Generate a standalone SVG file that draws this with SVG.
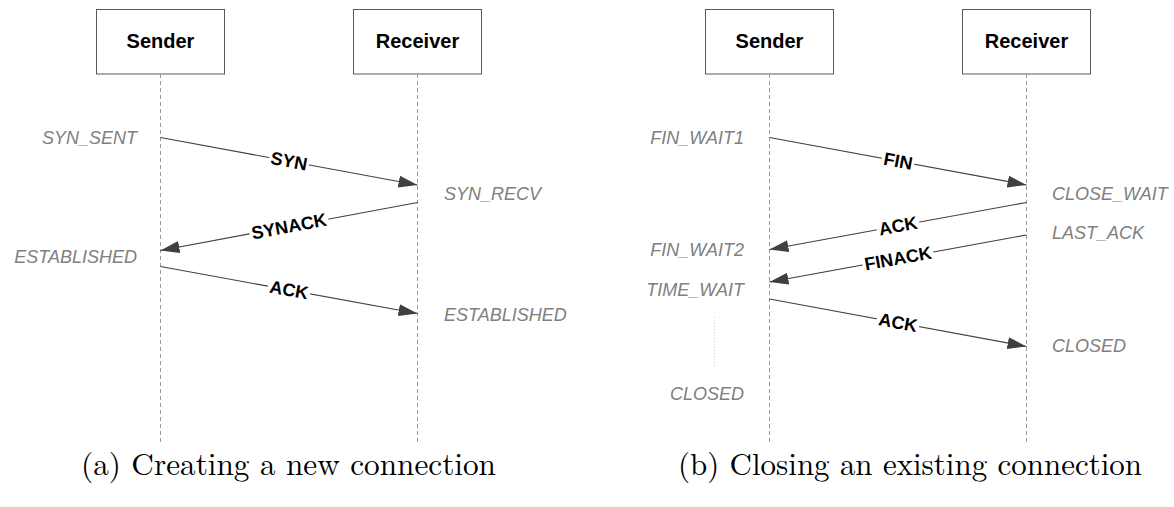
<svg xmlns="http://www.w3.org/2000/svg" width="1174" height="507" viewBox="0 0 1174 507">
  <style>
    .box { fill: #ffffff; stroke: #5a5a5a; stroke-width: 1; }
    .name { font-family: "Liberation Sans", Arial, sans-serif; font-weight: bold; font-size: 20px; fill: #000000; text-anchor: middle; }
    .life { stroke: #9a9a9a; stroke-width: 1; stroke-dasharray: 4 3; fill: none; }
    .state { font-family: "Liberation Sans", Arial, sans-serif; font-style: italic; font-size: 18px; fill: #808080; }
    .end { text-anchor: end; }
    .msg { stroke: #404040; stroke-width: 1.1; fill: none; marker-end: url(#head); }
    .lbl { font-family: "Liberation Sans", Arial, sans-serif; font-weight: bold; font-size: 18px; fill: #000000; text-anchor: middle; dominant-baseline: central; }
    .lblbg { fill: #ffffff; }
    .cap { font-family: "Latin Modern Roman", "Liberation Serif", "Times New Roman", serif; font-size: 31px; fill: #000000; }
    .wait { stroke: #c8c8c8; stroke-width: 1; stroke-dasharray: 1 2; }
  </style>
  <defs>
    <marker id="head" markerUnits="userSpaceOnUse" markerWidth="20" markerHeight="13" refX="19" refY="6" orient="auto">
      <path d="M0,0 L19,6 L0,12 Z" fill="#404040"/>
    </marker>
  </defs>

  <rect width="1174" height="507" fill="#ffffff"/>

  <!-- (a) connection setup -->
  <g id="a-sender">
    <rect class="box" x="96.5" y="9.5" width="128" height="64.5"/>
    <text class="name" x="160.5" y="48">Sender</text>
    <line class="life" x1="160.5" y1="74" x2="160.5" y2="445"/>
  </g>
  <g id="a-receiver">
    <rect class="box" x="353.5" y="9.5" width="128" height="64.5"/>
    <text class="name" x="417.5" y="48">Receiver</text>
    <line class="life" x1="417.5" y1="74" x2="417.5" y2="445"/>
  </g>
  <g id="a-states">
    <text class="state end" x="137" y="144">SYN_SENT</text>
    <text class="state" x="444" y="200">SYN_RECV</text>
    <text class="state end" x="137" y="263">ESTABLISHED</text>
    <text class="state" x="444" y="321">ESTABLISHED</text>
  </g>
  <g id="a-messages">
    <line class="msg" x1="160.5" y1="137.5" x2="417.5" y2="185"/>
    <g transform="translate(289,161.25) rotate(10.47)">
      <rect class="lblbg" x="-20" y="-8" width="40" height="16"/>
      <text class="lbl" x="0" y="0">SYN</text>
    </g>
    <line class="msg" x1="417.5" y1="202.5" x2="160.5" y2="250.5"/>
    <g transform="translate(289,226.5) rotate(-10.58)">
      <rect class="lblbg" x="-40" y="-8" width="80" height="16"/>
      <text class="lbl" x="0" y="0">SYNACK</text>
    </g>
    <line class="msg" x1="160.5" y1="266.5" x2="417.5" y2="313.5"/>
    <g transform="translate(289,290) rotate(10.36)">
      <rect class="lblbg" x="-21.5" y="-8" width="43" height="16"/>
      <text class="lbl" x="0" y="0">ACK</text>
    </g>
  </g>

  <!-- (b) connection teardown -->
  <g id="b-sender">
    <rect class="box" x="705.5" y="9.5" width="128" height="64.5"/>
    <text class="name" x="769.5" y="48">Sender</text>
    <line class="life" x1="769.5" y1="74" x2="769.5" y2="445"/>
  </g>
  <g id="b-receiver">
    <rect class="box" x="962.5" y="9.5" width="128" height="64.5"/>
    <text class="name" x="1026.5" y="48">Receiver</text>
    <line class="life" x1="1026.5" y1="74" x2="1026.5" y2="445"/>
  </g>
  <g id="b-states">
    <text class="state end" x="744" y="144">FIN_WAIT1</text>
    <text class="state" x="1052" y="200">CLOSE_WAIT</text>
    <text class="state" x="1052" y="239">LAST_ACK</text>
    <text class="state end" x="744" y="256">FIN_WAIT2</text>
    <text class="state end" x="744" y="296">TIME_WAIT</text>
    <text class="state" x="1052" y="352">CLOSED</text>
    <line class="wait" x1="714.5" y1="317" x2="714.5" y2="366"/>
    <text class="state end" x="744" y="400">CLOSED</text>
  </g>
  <g id="b-messages">
    <line class="msg" x1="769.5" y1="137.5" x2="1026.5" y2="185"/>
    <g transform="translate(898,161.25) rotate(10.47)">
      <rect class="lblbg" x="-16.5" y="-8" width="33" height="16"/>
      <text class="lbl" x="0" y="0">FIN</text>
    </g>
    <line class="msg" x1="1026.5" y1="202.5" x2="769.5" y2="249.5"/>
    <g transform="translate(898,226) rotate(-10.36)">
      <rect class="lblbg" x="-21.5" y="-8" width="43" height="16"/>
      <text class="lbl" x="0" y="0">ACK</text>
    </g>
    <line class="msg" x1="1026.5" y1="235" x2="769.5" y2="282"/>
    <g transform="translate(898,258.5) rotate(-10.36)">
      <rect class="lblbg" x="-36" y="-8" width="72" height="16"/>
      <text class="lbl" x="0" y="0">FINACK</text>
    </g>
    <line class="msg" x1="769.5" y1="299" x2="1026.5" y2="346.5"/>
    <g transform="translate(898,322.75) rotate(10.47)">
      <rect class="lblbg" x="-21.5" y="-8" width="43" height="16"/>
      <text class="lbl" x="0" y="0">ACK</text>
    </g>
  </g>

  <g id="captions">
    <text class="cap" x="81" y="475" textLength="415" lengthAdjust="spacingAndGlyphs">(a) Creating a new connection</text>
    <text class="cap" x="678" y="475" textLength="464" lengthAdjust="spacingAndGlyphs">(b) Closing an existing connection</text>
  </g>
</svg>
